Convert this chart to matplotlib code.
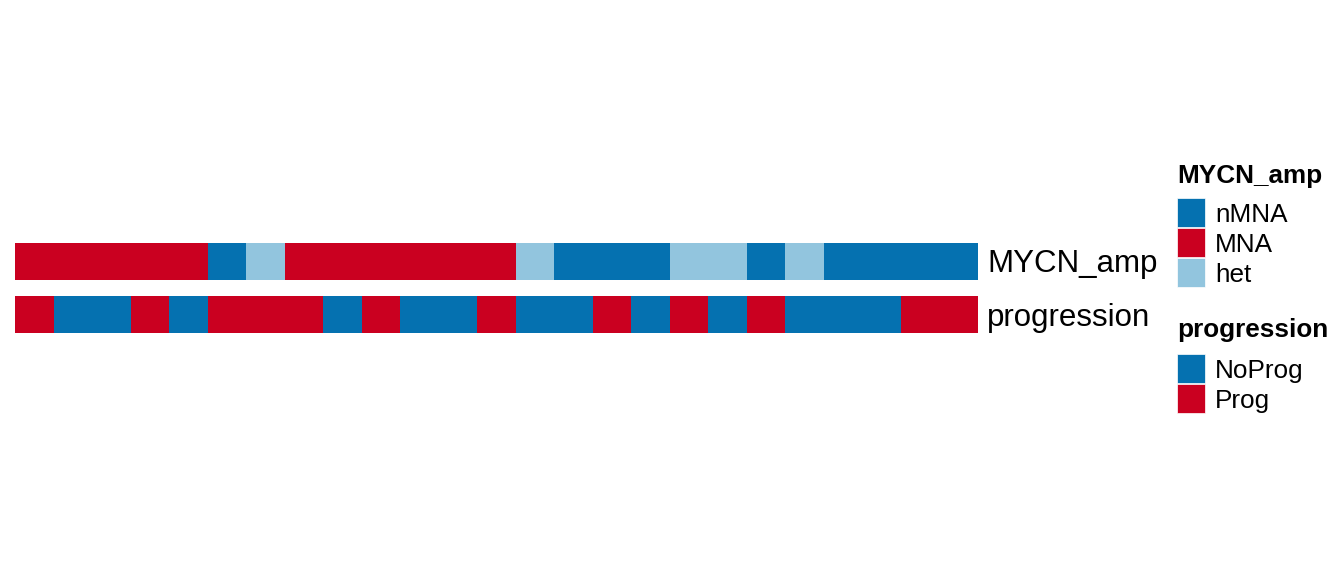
import numpy as np
import matplotlib
matplotlib.use("Agg")
from matplotlib import pyplot as plt
from matplotlib.colors import ListedColormap
from matplotlib.patches import Rectangle

plt.rcParams["font.family"] = ["Liberation Sans", "DejaVu Sans"]

# annotation tracks, one entry per sample (25 samples)
mycn_levels = ["nMNA", "MNA", "het"]
mycn_colors = ["#0571b0", "#ca0020", "#92c5de"]
mycn_amp = (["MNA"] * 5 + ["nMNA"] + ["het"] + ["MNA"] * 6 + ["het"]
            + ["nMNA"] * 3 + ["het"] * 2 + ["nMNA"] + ["het"] + ["nMNA"] * 4)

prog_levels = ["NoProg", "Prog"]
prog_colors = ["#0571b0", "#ca0020"]
progression = (["Prog"] + ["NoProg"] * 2 + ["Prog"] + ["NoProg"] + ["Prog"] * 3
               + ["NoProg"] + ["Prog"] + ["NoProg"] * 2 + ["Prog"] + ["NoProg"] * 2
               + ["Prog"] + ["NoProg"] + ["Prog"] + ["NoProg"] + ["Prog"]
               + ["NoProg"] * 3 + ["Prog"] * 2)

W, H = 1344, 576
fig = plt.figure(figsize=(W / 100, H / 100), dpi=100)


def px_axes(x0, y0, x1, y1):
    # axes from pixel box (top-left origin)
    return fig.add_axes([x0 / W, 1 - y1 / H, (x1 - x0) / W, (y1 - y0) / H])


def draw_track(ax, values, levels, colors, label):
    codes = np.array([[levels.index(v) for v in values]])
    ax.pcolormesh(codes, cmap=ListedColormap(colors), vmin=-0.5,
                  vmax=len(levels) - 0.5)
    ax.set_xlim(0, len(values))
    ax.set_ylim(0, 1)
    ax.axis("off")


ax1 = px_axes(15, 243, 978, 280)
draw_track(ax1, mycn_amp, mycn_levels, mycn_colors, "MYCN_amp")
ax2 = px_axes(15, 296, 978, 333)
draw_track(ax2, progression, prog_levels, prog_colors, "progression")

# overlay in pixel coordinates for labels and legends
ov = fig.add_axes([0, 0, 1, 1])
ov.set_xlim(0, W)
ov.set_ylim(H, 0)
ov.axis("off")
ov.patch.set_alpha(0)

ov.text(987, 272, "MYCN_amp", fontsize=22.5, va="baseline", ha="left")
ov.text(987, 326, "progression", fontsize=22.5, va="baseline", ha="left")


def draw_legend(title, levels, colors, title_base, key_top):
    ov.text(1177, title_base, title, fontsize=18.8, fontweight="bold",
            va="baseline", ha="left")
    for i, (lev, col) in enumerate(zip(levels, colors)):
        top = key_top + i * 30
        ov.add_patch(Rectangle((1177, top), 28, 29, facecolor=col,
                               edgecolor="white", linewidth=0.5))
        ov.text(1215, top + 24, lev, fontsize=18.8, va="baseline", ha="left")


draw_legend("MYCN_amp", mycn_levels, mycn_colors, 183, 198)
draw_legend("progression", prog_levels, prog_colors, 337, 354)

fig.savefig("out.png", dpi=100)
